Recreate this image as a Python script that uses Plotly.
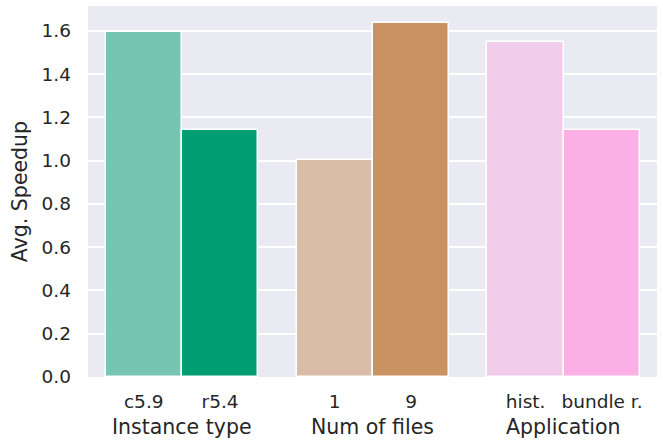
import plotly.graph_objects as go

# bar data
labels = ["c5.9", "r5.4", "1", "9", "hist.", "bundle r."]
speedup = [1.595, 1.142, 1.003, 1.637, 1.549, 1.142]
positions = [0, 1, 2.5, 3.5, 5, 6]
colors = ["#76C4B2", "#029E73", "#DABDA9", "#CA9161", "#F2CCEB", "#FBAFE4"]

groups = ["Instance type", "Num of files", "Application"]
group_pos = [0.5, 3, 5.5]

txt = "#262626"
font = "DejaVu Sans"

fig = go.Figure()
fig.add_trace(go.Bar(
    x=positions, y=speedup, width=1,
    marker=dict(color=colors, line=dict(color="white", width=1.5)),
    showlegend=False,
))

for g, gx in zip(groups, group_pos):
    fig.add_annotation(x=gx, y=-0.134, xref="x", yref="paper", text=g,
                       showarrow=False, yanchor="middle",
                       font=dict(family=font, size=20.5, color=txt))

fig.update_layout(
    width=663, height=443,
    margin=dict(l=88, r=6, t=6, b=66),
    paper_bgcolor="white", plot_bgcolor="#EAEAF2",
    font=dict(family=font, size=18.5, color=txt),
    bargap=0,
)
fig.update_xaxes(range=[-0.73, 6.72], tickvals=positions, ticktext=labels,
                 showgrid=False, zeroline=False, ticks="", ticklabelstandoff=11,
                 tickfont=dict(size=18.5))
fig.update_yaxes(range=[0, 1.715], dtick=0.2, tickformat=".1f",
                 gridcolor="white", gridwidth=1.5, zeroline=False,
                 ticklabelstandoff=16,
                 title=dict(text="Avg. Speedup", font=dict(size=20.5), standoff=8))

# the page's default body margin would shift the chart, drop it
fig.write_html("out.html", config={"displayModeBar": False},
               post_script="document.body.style.margin='0';")
